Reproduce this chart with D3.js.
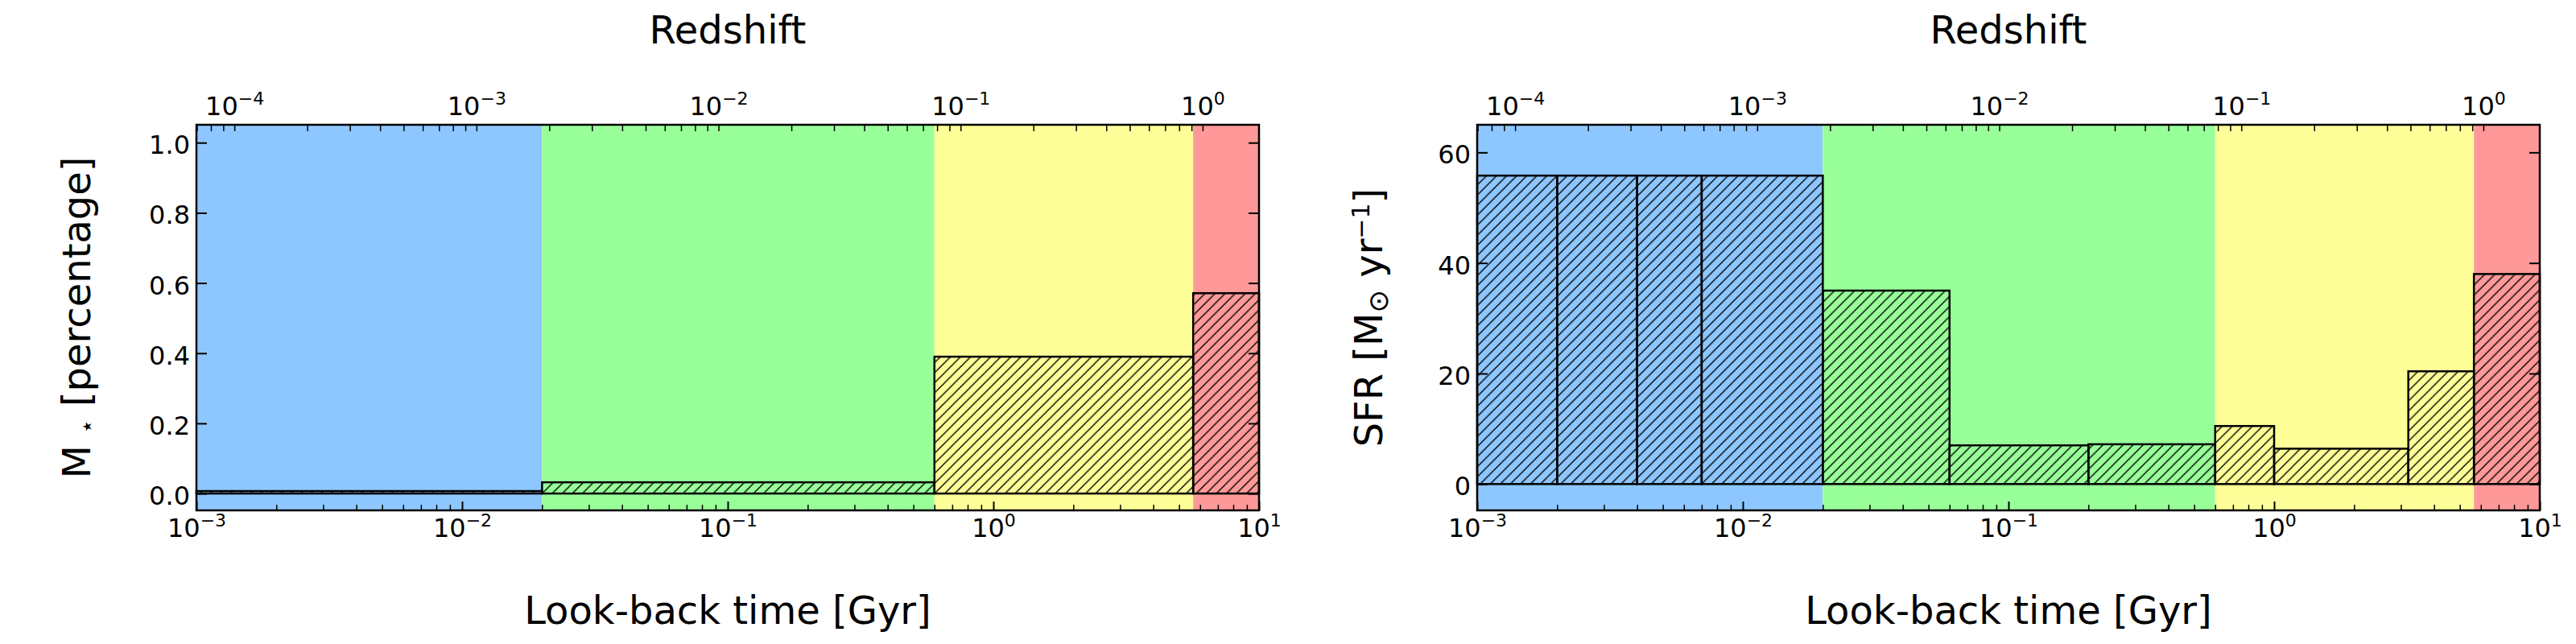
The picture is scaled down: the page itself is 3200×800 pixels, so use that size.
<!DOCTYPE html>
<html><head><meta charset="utf-8">
<script src="https://cdn.jsdelivr.net/npm/d3@7"></script>
<style>body{margin:0;background:#fff} text{font-family:"DejaVu Sans",sans-serif}</style>
</head><body>
<script>
// ---- data ----
const lookbackDomain = [1e-3, 10];
const redshiftDomain = [6.97e-5, 1.71];
const regionEdges = [1e-3, 0.02, 0.6, 5.65, 10];
const regionColors = ["#8ec7ff", "#99ff99", "#ffff99", "#ff9999"];
const massEdges = [1e-3, 0.02, 0.6, 5.65, 10];
const massValues = [0.007, 0.032, 0.39, 0.571];
const sfrEdges = [1e-3, 2e-3, 4e-3, 7e-3, 0.02, 0.06, 0.2, 0.6, 1.0, 3.2, 5.65, 10];
const sfrValues = [55.8, 55.8, 55.8, 55.8, 35.0, 7.0, 7.2, 10.5, 6.4, 20.4, 38.0];
const massYDomain = [-0.048, 1.051];
const sfrYDomain = [-4.76, 65.0];
const massYTicks = [0, 0.2, 0.4, 0.6, 0.8, 1.0];
const sfrYTicks = [0, 20, 40, 60];
const xMajorTicks = [1e-3, 1e-2, 1e-1, 1, 10];
const zMajorTicks = [1e-4, 1e-3, 1e-2, 1e-1, 1];
const xLabel = "Look-back time [Gyr]";
const topLabel = "Redshift";

// ---- layout ----
const W = 3200, H = 800;
const plotTop = 155, plotW = 1320, plotH = 479;
const svg = d3.select("body").append("svg").attr("width", W).attr("height", H);
svg.append("rect").attr("width", W).attr("height", H).attr("fill", "#fff");

const defs = svg.append("defs");
const hs = 12.5;
const pat = defs.append("pattern").attr("id", "hatch").attr("patternUnits", "userSpaceOnUse")
  .attr("width", hs).attr("height", hs);
pat.append("path").attr("d", `M${-hs/2},${hs/2} L${hs/2},${-hs/2} M0,${hs} L${hs},0 M${hs/2},${hs*1.5} L${hs*1.5},${hs/2}`)
  .attr("stroke", "#000").attr("stroke-width", 1.4);

const x = d3.scaleLog().domain(lookbackDomain).range([0, plotW]);
const z = d3.scaleLog().domain(redshiftDomain).range([0, plotW]);

function powLabel(sel) {
  sel.each(function(d) {
    const t = d3.select(this); t.text(null);
    const e = Math.round(Math.log10(d));
    t.append("tspan").text("10");
    t.append("tspan").attr("font-size", 22).attr("dy", -13).text(e < 0 ? "\u2212" + (-e) : String(e));
  });
}

const panels = [
  {left: 244, edges: massEdges, values: massValues, yDomain: massYDomain, yTicks: massYTicks,
   fmt: d3.format(".1f"), ylabelX: 112, ylabel: "mass"},
  {left: 1835, edges: sfrEdges, values: sfrValues, yDomain: sfrYDomain, yTicks: sfrYTicks,
   fmt: d3.format("d"), ylabelX: 1717, ylabel: "sfr"}
];

panels.forEach(p => {
  const y = d3.scaleLinear().domain(p.yDomain).range([plotH, 0]);
  const g = svg.append("g").attr("transform", `translate(${p.left},${plotTop})`);

  // background regions
  g.selectAll("rect.region").data(regionColors).join("rect").attr("class", "region")
    .attr("x", (d, i) => x(regionEdges[i]))
    .attr("width", (d, i) => x(regionEdges[i + 1]) - x(regionEdges[i]))
    .attr("y", 0).attr("height", plotH).attr("fill", d => d);

  // bars
  const bins = p.values.map((v, i) => ({x0: p.edges[i], x1: p.edges[i + 1], v}));
  g.selectAll("rect.bar").data(bins).join("rect").attr("class", "bar")
    .attr("x", d => x(d.x0)).attr("width", d => x(d.x1) - x(d.x0))
    .attr("y", d => y(d.v)).attr("height", d => y(0) - y(d.v))
    .attr("fill", "url(#hatch)").attr("stroke", "#000").attr("stroke-width", 2.5);

  // bottom axis major
  const gxM = g.append("g").attr("transform", `translate(0,${plotH})`)
    .call(d3.axisBottom(x).tickValues(xMajorTicks).tickSizeInner(-11).tickSizeOuter(0).tickPadding(0));
  gxM.attr("font-size", 32).attr("font-family", "DejaVu Sans");
  gxM.select(".domain").remove();
  gxM.selectAll("line").attr("stroke-width", 2);
  gxM.selectAll("text").attr("y", 33).attr("dy", null).attr("fill", "#000").call(powLabel);
  // bottom axis minor
  const xMinor = x.ticks().filter(v => !xMajorTicks.some(m => Math.abs(m - v) / m < 1e-6));
  const gxm = g.append("g").attr("transform", `translate(0,${plotH})`)
    .call(d3.axisBottom(x).tickValues(xMinor).tickSizeInner(-7).tickSizeOuter(0).tickFormat(""));
  gxm.select(".domain").remove();
  gxm.selectAll("line").attr("stroke-width", 1.5);

  // top (redshift) axis major
  const gzM = g.append("g")
    .call(d3.axisTop(z).tickValues(zMajorTicks).tickSizeInner(-8).tickSizeOuter(0).tickPadding(0));
  gzM.attr("font-size", 32).attr("font-family", "DejaVu Sans");
  gzM.select(".domain").remove();
  gzM.selectAll("line").attr("stroke-width", 1.5);
  gzM.selectAll("text").attr("y", -12).attr("dy", null).attr("fill", "#000").call(powLabel);
  const zMinor = z.ticks().filter(v => !zMajorTicks.some(m => Math.abs(m - v) / m < 1e-6));
  const gzm = g.append("g")
    .call(d3.axisTop(z).tickValues(zMinor).tickSizeInner(-8).tickSizeOuter(0).tickFormat(""));
  gzm.select(".domain").remove();
  gzm.selectAll("line").attr("stroke-width", 1.5);

  // y axis left
  const gy = g.append("g")
    .call(d3.axisLeft(y).tickValues(p.yTicks).tickSizeInner(-13).tickSizeOuter(0).tickPadding(8).tickFormat(p.fmt));
  gy.attr("font-size", 32).attr("font-family", "DejaVu Sans");
  gy.select(".domain").remove();
  gy.selectAll("line").attr("stroke-width", 2);
  gy.selectAll("text").attr("dy", 13.5).attr("fill", "#000");
  // y axis right (ticks only)
  const gyr = g.append("g").attr("transform", `translate(${plotW},0)`)
    .call(d3.axisRight(y).tickValues(p.yTicks).tickSizeInner(-13).tickSizeOuter(0).tickFormat(""));
  gyr.select(".domain").remove();
  gyr.selectAll("line").attr("stroke-width", 2);

  // frame
  g.append("rect").attr("width", plotW).attr("height", plotH)
    .attr("fill", "none").attr("stroke", "#000").attr("stroke-width", 2.5);

  // labels
  g.append("text").attr("x", plotW / 2).attr("y", 775 - plotTop).attr("text-anchor", "middle")
    .attr("font-size", 48).text(xLabel);
  g.append("text").attr("x", plotW / 2).attr("y", 54 - plotTop).attr("text-anchor", "middle")
    .attr("font-size", 48).text(topLabel);

  const yl = svg.append("text").attr("text-anchor", "middle").attr("font-size", 48)
    .attr("transform", `translate(${p.ylabelX},${plotTop + plotH / 2}) rotate(-90)`);
  if (p.ylabel === "mass") {
    yl.append("tspan").text("M");
    yl.append("tspan").attr("font-size", 30).attr("dx", 14).attr("dy", 6).text("\u22C6");
    yl.append("tspan").attr("dy", -6).text(" [percentage]");
  } else {
    yl.append("tspan").text("SFR [M");
    yl.append("tspan").attr("font-size", 34).attr("dy", 7).text("\u2299");
    yl.append("tspan").attr("dy", -7).text(" yr");
    yl.append("tspan").attr("font-size", 30).attr("dy", -16).text("\u22121");
    yl.append("tspan").attr("dy", 16).text("]");
  }
});
</script>
</body></html>
